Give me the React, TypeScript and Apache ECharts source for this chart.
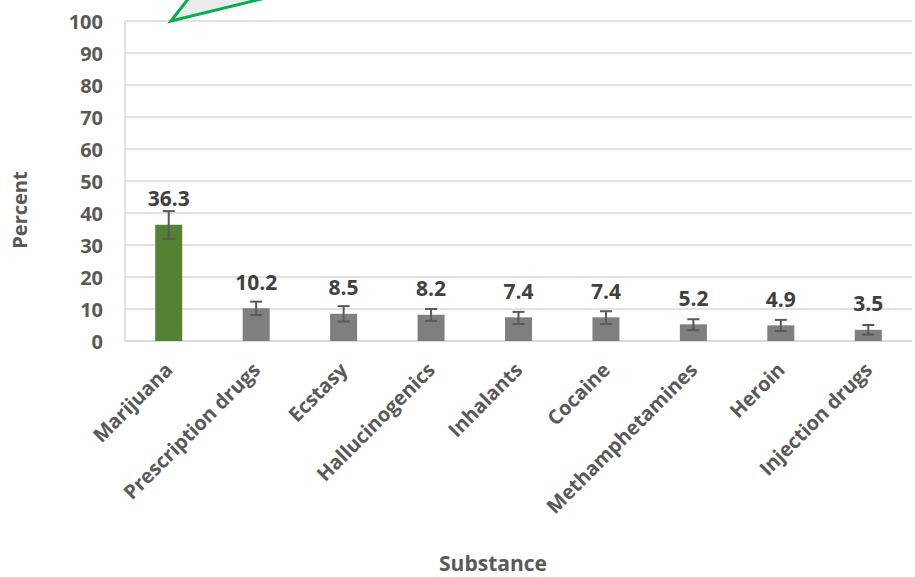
import React, { useEffect, useRef } from "react";
import * as echarts from "echarts";

const categories = [
  "Marijuana",
  "Prescription drugs",
  "Ecstasy",
  "Hallucinogenics",
  "Inhalants",
  "Cocaine",
  "Methamphetamines",
  "Heroin",
  "Injection drugs",
];
const values = [36.3, 10.2, 8.5, 8.2, 7.4, 7.4, 5.2, 4.9, 3.5];
const errLower = [31.9, 8.1, 6.1, 6.3, 5.3, 5.3, 3.4, 3.1, 2.0];
const errUpper = [40.6, 12.3, 10.9, 10.0, 9.1, 9.3, 6.8, 6.6, 5.0];
const barColors = ["#548235", "#7f7f7f", "#7f7f7f", "#7f7f7f", "#7f7f7f", "#7f7f7f", "#7f7f7f", "#7f7f7f", "#7f7f7f"];

const FONT = "'Open Sans', 'DejaVu Sans', sans-serif";

export default function App() {
  const ref = useRef<HTMLDivElement>(null);
  useEffect(() => {
    if (!ref.current) return;
    const chart = echarts.init(ref.current, undefined, { renderer: "svg" });
    chart.setOption({
      animation: false,
      backgroundColor: "#ffffff",
      grid: { left: 125, right: 3, top: 21, bottom: 236, containLabel: false },
      xAxis: {
        type: "category",
        data: categories,
        axisLine: { show: true, lineStyle: { color: "#d9d9d9", width: 1.5 } },
        axisTick: { show: false },
        axisLabel: {
          rotate: 45,
          interval: 0,
          margin: 25,
          color: "#595959",
          fontFamily: FONT,
          fontWeight: "bold",
          fontSize: 20,
        },
      },
      yAxis: {
        type: "value",
        min: 0,
        max: 100,
        interval: 10,
        axisLine: { show: true, lineStyle: { color: "#d9d9d9", width: 1.5 } },
        axisTick: { show: false },
        splitLine: { lineStyle: { color: "#d9d9d9", width: 1.5 } },
        axisLabel: {
          margin: 22,
          color: "#595959",
          fontFamily: FONT,
          fontWeight: "bold",
          fontSize: 20,
        },
      },
      series: [
        {
          type: "bar",
          barWidth: 27,
          data: values.map((v, i) => ({ value: v, itemStyle: { color: barColors[i] } })),
          label: {
            show: true,
            position: "top",
            distance: 16,
            color: "#404040",
            fontFamily: FONT,
            fontWeight: "bold",
            fontSize: 21,
          },
          z: 2,
        },
        {
          type: "custom",
          data: categories.map((_, i) => [i, errLower[i], errUpper[i]]),
          z: 3,
          renderItem: (params: any, api: any) => {
            const x = api.value(0);
            const lo = api.coord([x, api.value(1)]);
            const hi = api.coord([x, api.value(2)]);
            const hw = 6;
            const style = { stroke: "#595959", lineWidth: 2 };
            return {
              type: "group",
              children: [
                { type: "line", shape: { x1: lo[0], y1: lo[1], x2: hi[0], y2: hi[1] }, style },
                { type: "line", shape: { x1: hi[0] - hw, y1: hi[1], x2: hi[0] + hw, y2: hi[1] }, style },
                { type: "line", shape: { x1: lo[0] - hw, y1: lo[1], x2: lo[0] + hw, y2: lo[1] }, style },
              ],
            };
          },
        },
      ],
      graphic: [
        {
          type: "polygon",
          shape: { points: [[171, 21], [192, -6], [282, -6]] },
          style: { fill: "#ebebeb", stroke: "#00b050", lineWidth: 3, lineJoin: "miter" },
          z: 10,
        },
        {
          type: "text",
          x: 19,
          y: 210,
          rotation: Math.PI / 2,
          style: {
            text: "Percent",
            fill: "#595959",
            font: `bold 20px ${FONT}`,
            align: "center",
            verticalAlign: "middle",
          },
        },
        {
          type: "text",
          x: 493,
          y: 563,
          style: {
            text: "Substance",
            fill: "#595959",
            font: `bold 21px ${FONT}`,
            align: "center",
            verticalAlign: "middle",
          },
        },
      ],
    });
    return () => chart.dispose();
  }, []);
  return (
    <div
      ref={ref}
      style={{ position: "fixed", left: 0, top: 0, width: 915, height: 577, background: "#fff" }}
    />
  );
}
